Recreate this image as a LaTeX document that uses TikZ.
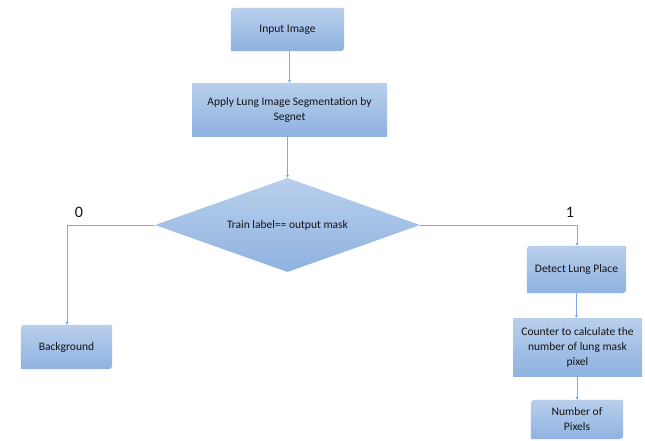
\documentclass[tikz,border=0pt]{standalone}
\usepackage{fontspec}
\setmainfont{Carlito}
\usetikzlibrary{shapes.geometric,arrows.meta}
\definecolor{boxtop}{RGB}{184,207,236}
\definecolor{boxbot}{RGB}{143,178,224}
\definecolor{linec}{RGB}{128,170,224}
\definecolor{txt}{RGB}{20,20,20}
\tikzset{
  lbl/.style={text=txt,font=\fontsize{11.5}{15}\selectfont,align=center,inner sep=0pt},
  sqbox/.style={lbl,rectangle,top color=boxtop,bottom color=boxbot},
  conn/.style={draw=linec,line width=0.8pt,-{Triangle[length=3pt,width=3pt]}},
  bignum/.style={text=txt,font=\fontsize{16}{18}\selectfont,inner sep=0pt}
}
% rounded top-left and bottom-right corners
\newcommand{\diagshape}[1]{%
  \path[top color=boxtop,bottom color=boxbot]
    (#1.south west) -- ([yshift=-8pt]#1.north west)
    .. controls (#1.north west) .. ([xshift=8pt]#1.north west)
    -- (#1.north east) -- ([yshift=8pt]#1.south east)
    .. controls (#1.south east) .. ([xshift=-8pt]#1.south east) -- cycle;}
\begin{document}
\begin{tikzpicture}[x=1pt,y=1pt]
\useasboundingbox[fill=white] (0,0) rectangle (645,-440);
% nodes (placeholders for rounded shapes)
\node[lbl,minimum width=113pt,minimum height=43pt] (in) at (287.5,-29.5) {};
\diagshape{in}
\node[lbl] at (in) {Input Image};

\node[sqbox,minimum width=195pt,minimum height=53pt] (apply) at (289.5,-109.5)
  {Apply Lung Image Segmentation by\\Segnet};

\node[diamond,top color=boxtop,bottom color=boxbot,minimum width=265pt,minimum height=94pt,inner sep=0pt] (dec) at (287.5,-225) {};
\node[lbl] at (dec) {Train label== output mask};

\node[lbl,minimum width=91pt,minimum height=44pt] (bg) at (66.5,-347) {};
\diagshape{bg}
\node[lbl] at (bg) {Background};

\node[lbl,minimum width=99pt,minimum height=47pt] (det) at (576.5,-269.5) {};
\diagshape{det}
\node[lbl] at (det) {Detect Lung Place};

\node[sqbox,minimum width=129pt,minimum height=58pt] (cnt) at (577.5,-347)
  {Counter to calculate the\\number of lung mask\\pixel};

\node[lbl,minimum width=92pt,minimum height=39pt] (num) at (577,-419.5) {};
\diagshape{num}
\node[lbl] at (num) {Number of\\Pixels};

\node[bignum] (zero) at (79,-212) {0};
\node[bignum] (one) at (570,-212) {1};

\coordinate (lc) at (67,-225);
\coordinate (rc) at (577,-225);

% connectors
\draw[conn] (in.south -| apply.north) -- (apply.north);
\draw[conn] (apply.south -| dec.north) -- (dec.north);
\draw[conn] (dec.west) -- (lc) -- (lc |- bg.north);
\draw[conn] (dec.east) -- (rc) -- (rc |- det.north);
\draw[conn] (det.south) -- (det.south |- cnt.north);
\draw[conn] (cnt.south -| num.north) -- (num.north);
\end{tikzpicture}
\end{document}
